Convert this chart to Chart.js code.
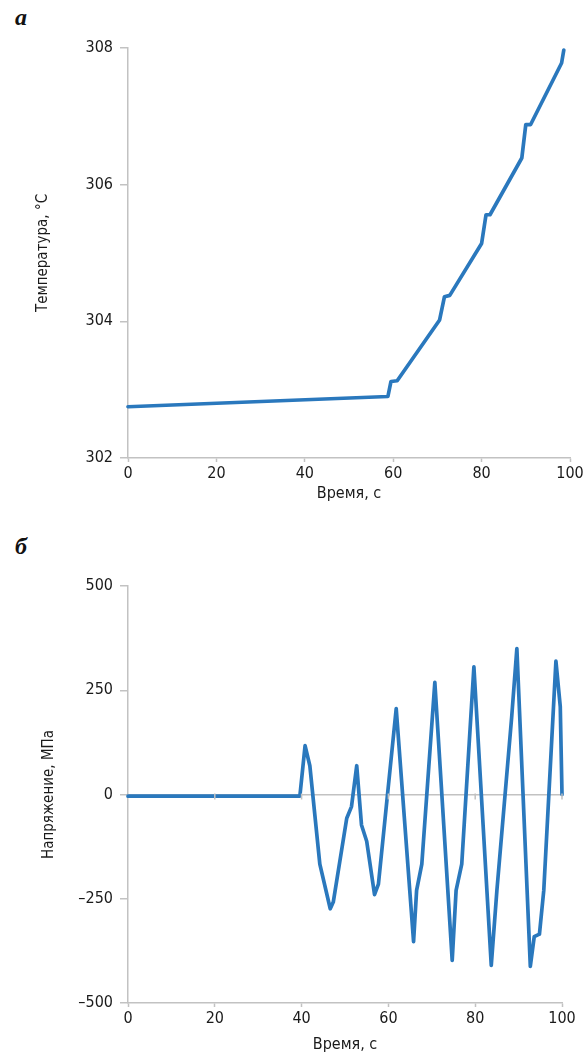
<!DOCTYPE html>
<html>
<head>
<meta charset="utf-8">
<script src="https://cdn.jsdelivr.net/npm/chart.js@4/dist/chart.umd.min.js"></script>
<style>
  body { margin: 0; background: #fff; width: 588px; height: 1055px; position: relative; overflow: hidden; }
  .panel { position: absolute; left: 0; width: 588px; }
  .tag { position: absolute; left: 15px; font: italic bold 24px "Liberation Serif", "DejaVu Serif", serif; color: #111; }
</style>
</head>
<body>
<div class="tag" style="top:4px">а</div>
<div class="panel" style="top:0;height:520px"><canvas id="tempChart"></canvas></div>
<div class="tag" style="top:533px">б</div>
<div class="panel" style="top:530px;height:525px"><canvas id="stressChart"></canvas></div>
<script>
// температура, °С
var tempTime  = [0, 58.8, 59.5, 60.9, 70.5, 71.6, 72.8, 80.0, 81.0, 81.9, 89.1, 90.0, 91.1, 98.1, 98.6];
var tempValue = [302.75, 302.90, 303.12, 303.13, 304.02, 304.36, 304.38, 305.14, 305.56, 305.56, 306.39, 306.88, 306.88, 307.78, 307.97];

// напряжение, МПа
var stressTime  = [0, 39.6, 40.8, 41.9, 44.2, 46.6, 47.3, 50.4, 51.5, 52.7, 53.8, 55.0, 56.8, 57.7, 61.8, 65.8, 66.5, 67.7,
                   70.7, 74.7, 75.6, 76.9, 79.7, 83.7, 85.0, 88.4, 89.6, 92.7, 93.6, 94.8, 95.8, 98.6, 99.6, 100];
var stressValue = [-4, -4, 117, 69, -167, -274, -258, -57, -29, 69, -73, -112, -240, -215, 206, -353, -230, -167,
                   269, -398, -230, -167, 306, -410, -230, 185, 350, -412, -341, -335, -230, 320, 211, 0];

var timeTicks = [0, 20, 40, 60, 80, 100];
var tempTicks = [302, 304, 306, 308];
var stressTicks = [-500, -250, 0, 250, 500];

var lineColor = '#2a78bd';
var axisColor = '#c2c2c2';
var textColor = '#1a1a1a';
var fontFamily = "'Liberation Sans Narrow', 'DejaVu Sans Condensed', 'Roboto', sans-serif";

Chart.defaults.font.family = fontFamily;
Chart.defaults.color = textColor;

function points(xs, ys) {
  return xs.map(function(x, i) { return {x: x, y: ys[i]}; });
}

function fixedTicks(list) {
  return function(scale) {
    scale.ticks = list.map(function(v) { return {value: v}; });
  };
}

// small tick marks where the x ticks cross the zero line
var zeroTicks = {
  id: 'zeroTicks',
  afterDatasetsDraw: function(chart, args, opts) {
    if (!opts.show) return;
    var x = chart.scales.x, y = chart.scales.y, ctx = chart.ctx;
    var y0 = y.getPixelForValue(0);
    ctx.save();
    ctx.strokeStyle = axisColor;
    ctx.lineWidth = 1.5;
    timeTicks.slice(1).forEach(function(t) {
      var px = x.getPixelForValue(t);
      ctx.beginPath();
      ctx.moveTo(px, y0 - 1);
      ctx.lineTo(px, y0 + 5);
      ctx.stroke();
    });
    ctx.restore();
  }
};

function lineChart(id, opts) {
  return new Chart(document.getElementById(id).getContext('2d'), {
    type: 'line',
    data: {
      datasets: [{
        data: points(opts.xs, opts.ys),
        borderColor: lineColor,
        borderWidth: 3.7,
        borderJoinStyle: 'round',
        borderCapStyle: 'round',
        pointRadius: 0,
        tension: 0,
        clip: 4
      }]
    },
    plugins: [zeroTicks],
    options: {
      responsive: true,
      maintainAspectRatio: false,
      animation: false,
      layout: { padding: opts.padding },
      plugins: { legend: { display: false }, tooltip: { enabled: false }, zeroTicks: { show: opts.zeroLine } },
      scales: {
        x: {
          type: 'linear',
          min: 0, max: 100,
          afterBuildTicks: fixedTicks(timeTicks),
          afterFit: function(s) { s.height = opts.xHeight; },
          border: { color: axisColor, width: 1.5 },
          grid: { drawOnChartArea: false, tickLength: 4, tickColor: axisColor, tickWidth: 1.5 },
          ticks: { padding: 2, maxRotation: 0, font: { size: 16 } },
          title: { display: true, text: 'Время, с', font: { size: 16 }, padding: { top: 0, bottom: opts.xTitlePad } }
        },
        y: {
          type: 'linear',
          min: opts.yMin, max: opts.yMax,
          afterBuildTicks: fixedTicks(opts.yTicks),
          afterFit: function(s) { s.width = 128; },
          border: { color: axisColor, width: 1.5 },
          grid: {
            drawOnChartArea: opts.zeroLine,
            color: function(c) { return c.tick && c.tick.value === 0 ? axisColor : 'rgba(0,0,0,0)'; },
            lineWidth: 1.5,
            tickLength: 8, tickColor: axisColor, tickWidth: 1.5
          },
          ticks: {
            padding: 7,
            font: { size: 16 },
            callback: function(v) { return v < 0 ? '\u2013' + Math.abs(v) : String(v); }
          },
          title: { display: true, text: opts.yTitle, font: { size: 15 }, padding: { top: opts.yTitlePad, bottom: 0 } }
        }
      }
    }
  });
}

lineChart('tempChart', {
  xs: tempTime, ys: tempValue,
  yMin: 302, yMax: 308, yTicks: tempTicks,
  yTitle: 'Температура, °С', yTitlePad: 34,
  padding: { top: 48, right: 18, bottom: 0, left: 0 },
  xHeight: 62, xTitlePad: 17,
  zeroLine: false
});

lineChart('stressChart', {
  xs: stressTime, ys: stressValue,
  yMin: -500, yMax: 500, yTicks: stressTicks,
  yTitle: 'Напряжение, МПа', yTitlePad: 40,
  padding: { top: 56, right: 26, bottom: 0, left: 0 },
  xHeight: 52, xTitlePad: 1,
  zeroLine: true
});
</script>
</body>
</html>
